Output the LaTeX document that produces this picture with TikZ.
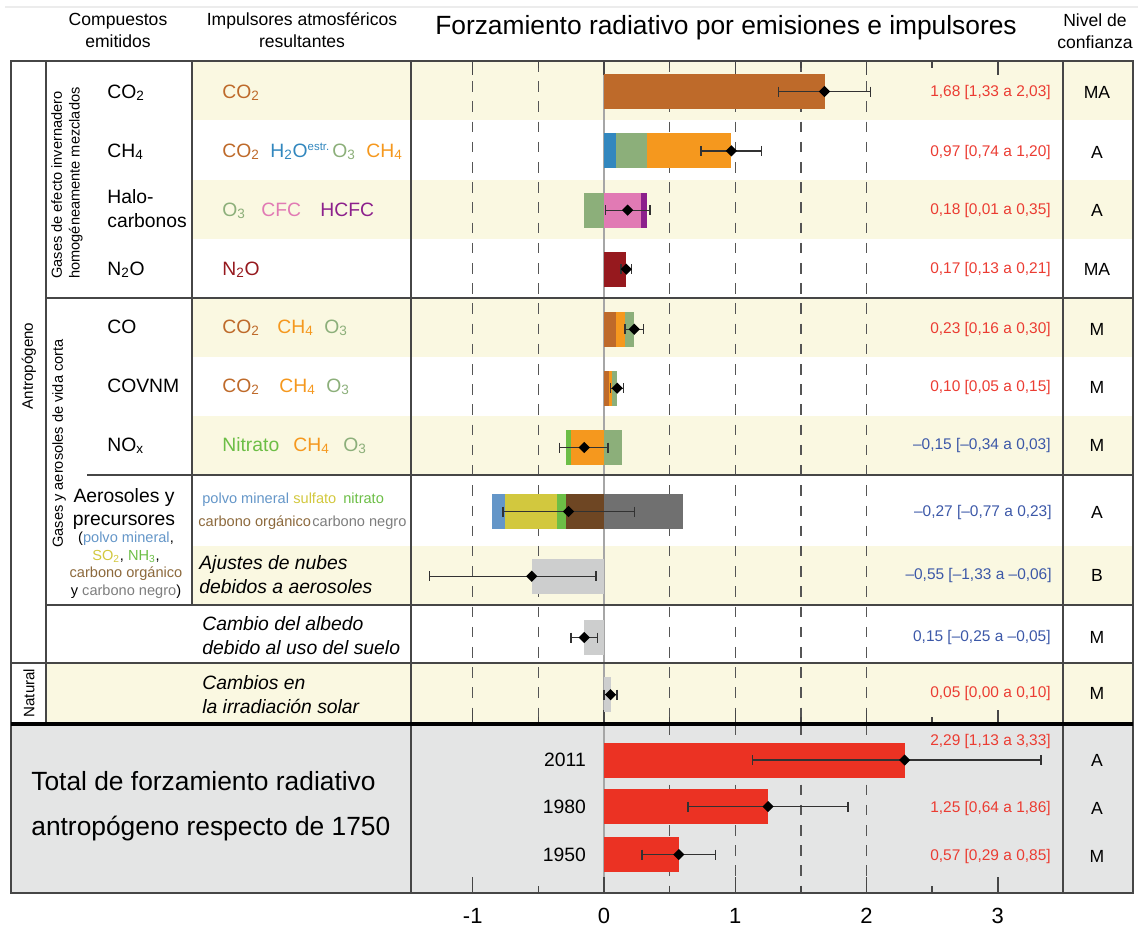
\documentclass[tikz,border=0pt]{standalone}
\usepackage{fontspec}
\setmainfont{Liberation Sans}
\usepackage{tikz}
\usetikzlibrary{shapes.geometric,positioning}
\usepackage{xcolor}
\definecolor{rfcream}{RGB}{250,248,225}
\definecolor{rfpanel}{RGB}{228,229,229}
\definecolor{rfframe}{RGB}{70,70,70}
\definecolor{rfgrid}{RGB}{85,85,85}
\definecolor{rferr}{RGB}{50,50,50}
\definecolor{rfco2}{RGB}{190,106,42}
\definecolor{rfh2o}{RGB}{50,135,190}
\definecolor{rfo3}{RGB}{140,175,122}
\definecolor{rfch4}{RGB}{245,152,30}
\definecolor{rfcfc}{RGB}{225,122,180}
\definecolor{rfhcfc}{RGB}{140,32,140}
\definecolor{rfn2o}{RGB}{150,25,30}
\definecolor{rfnit}{RGB}{108,190,70}
\definecolor{rfdust}{RGB}{100,150,200}
\definecolor{rfsulf}{RGB}{210,200,62}
\definecolor{rforg}{RGB}{110,70,35}
\definecolor{rforgtxt}{RGB}{140,105,60}
\definecolor{rfblack}{RGB}{112,112,112}
\definecolor{rfblacktxt}{RGB}{125,125,125}
\definecolor{rflight}{RGB}{205,206,206}
\definecolor{rftotal}{RGB}{235,50,35}
\definecolor{rfred}{RGB}{235,60,50}
\definecolor{rfblue}{RGB}{60,88,168}
\tikzstyle{frame} = [draw=rfframe, line width=0.85pt]
\tikzstyle{heavy} = [draw=black, line width=1.8pt]
\tikzstyle{gridline} = [draw=rfgrid, line width=0.8pt, dash pattern=on 6pt off 5.5pt]
\tikzstyle{zeroline} = [draw=gray!70, line width=0.6pt]
\tikzstyle{tickmark} = [draw=rfframe, line width=0.8pt]
\tikzstyle{errline} = [draw=rferr, line width=0.8pt]
\tikzstyle{marker} = [diamond, fill=black, inner sep=0pt, minimum size=0.23cm]
\tikzstyle{head} = [align=center, font=\fontsize{10}{12.5}\selectfont]
\tikzstyle{cmp} = [anchor=base west, inner sep=0pt, font=\fontsize{11}{13.6}\selectfont]
\tikzstyle{drv} = [anchor=base west, inner sep=0pt, font=\fontsize{11}{13}\selectfont]
\tikzstyle{drvsmall} = [anchor=base west, inner sep=0pt, font=\fontsize{8.3}{10}\selectfont]
\tikzstyle{note} = [anchor=west, align=left, inner sep=0pt, font=\fontsize{11}{13.6}\selectfont\itshape]
\tikzstyle{val} = [anchor=east, inner sep=0pt, font=\fontsize{8.8}{10}\selectfont]
\tikzstyle{conf} = [font=\fontsize{10}{12}\selectfont]
\tikzstyle{sidelab} = [rotate=90, inner sep=0pt, font=\fontsize{8.3}{10}\selectfont]
\tikzstyle{axlab} = [font=\fontsize{12.5}{14}\selectfont]
\newcommand{\rfbar}[4]{\fill[#1] (#2,#4-17.5) rectangle (#3,#4+17.5);}
\newcommand{\rferrbar}[5]{%
  \draw[errline] (#3,#2-5) -- (#3,#2+5) (#3,#2) -- (#4,#2) (#4,#2-5) -- (#4,#2+5);
  \node (#1) [marker] at (#5,#2) {};}

\begin{document}
\begin{tikzpicture}[x=0.02cm, y=-0.02cm]
\useasboundingbox (0,0) rectangle (1138,931);
\draw[gray!15, line width=0.6pt] (5,7) -- (1138,7);

% row shading
\fill[rfcream] (192,61) rectangle (1133,120);
\fill[rfcream] (192,180) rectangle (1133,239);
\fill[rfcream] (192,298) rectangle (1133,357);
\fill[rfcream] (192,416) rectangle (1133,475);
\fill[rfcream] (192,546) rectangle (1133,605);
\fill[rfcream] (46,663) rectangle (1133,724);
\fill[rfpanel] (11,724) rectangle (1133,893);

% forcing axis: 0 at x=604, 1 unit = 131.3
\begin{scope}[shift={(604,0)}, x=2.626cm]
\foreach \v in {-1,-0.5,0.5,1,1.5,2}
  \draw[gridline] (\v,61) -- (\v,724);
\foreach \v in {0.5,1,1.5,2}
  \draw[gridline] (\v,724) -- (\v,893);
\draw[zeroline] (0,61) -- (0,893);
\foreach \v in {-1,0,1,2,3}
  \draw[tickmark] (\v,61) -- (\v,75) (\v,724) -- (\v,710) (\v,893) -- (\v,877);
\foreach \v in {-0.5,0.5,1.5,2.5}
  \draw[tickmark] (\v,61) -- (\v,68) (\v,724) -- (\v,717) (\v,893) -- (\v,886);

% bars
\rfbar{rfco2}{0}{1.68}{91.5}
\rfbar{rfh2o}{0}{0.09}{150.8}
\rfbar{rfo3}{0.09}{0.33}{150.8}
\rfbar{rfch4}{0.33}{0.97}{150.8}
\rfbar{rfo3}{-0.15}{0}{210.2}
\rfbar{rfcfc}{0}{0.28}{210.2}
\rfbar{rfhcfc}{0.28}{0.33}{210.2}
\rfbar{rfn2o}{0}{0.17}{269.2}
\rfbar{rfco2}{0}{0.09}{329.2}
\rfbar{rfch4}{0.09}{0.16}{329.2}
\rfbar{rfo3}{0.16}{0.23}{329.2}
\rfbar{rfco2}{0}{0.036}{388.2}
\rfbar{rfch4}{0.036}{0.06}{388.2}
\rfbar{rfo3}{0.06}{0.10}{388.2}
\rfbar{rfnit}{-0.29}{-0.25}{447.5}
\rfbar{rfch4}{-0.25}{0}{447.5}
\rfbar{rfo3}{0}{0.14}{447.5}
\rfbar{rfdust}{-0.855}{-0.755}{511.5}
\rfbar{rfsulf}{-0.755}{-0.356}{511.5}
\rfbar{rfnit}{-0.356}{-0.287}{511.5}
\rfbar{rforg}{-0.287}{0}{511.5}
\rfbar{rfblack}{0}{0.60}{511.5}
\rfbar{rflight}{-0.55}{0}{576.2}
\rfbar{rflight}{-0.15}{0}{637.5}
\rfbar{rflight}{0}{0.05}{694.7}
\rfbar{rftotal}{0}{2.29}{760}
\rfbar{rftotal}{0}{1.25}{806.5}
\rfbar{rftotal}{0}{0.57}{854.5}

% uncertainty ranges
\rferrbar{eco2}{91.5}{1.33}{2.03}{1.68}
\rferrbar{ech4}{150.8}{0.74}{1.20}{0.97}
\rferrbar{ehalo}{210.2}{0.01}{0.35}{0.18}
\rferrbar{en2o}{269.2}{0.13}{0.21}{0.17}
\rferrbar{eco}{329.2}{0.16}{0.30}{0.23}
\rferrbar{evoc}{388.2}{0.05}{0.15}{0.10}
\rferrbar{enox}{447.5}{-0.34}{0.03}{-0.15}
\rferrbar{eaer}{511.5}{-0.77}{0.23}{-0.27}
\rferrbar{ecloud}{576.2}{-1.33}{-0.06}{-0.55}
\rferrbar{ealb}{637.5}{-0.25}{-0.05}{-0.15}
\rferrbar{esol}{694.7}{0.00}{0.10}{0.05}
\rferrbar{e2011}{760}{1.13}{3.33}{2.29}
\rferrbar{e1980}{806.5}{0.64}{1.86}{1.25}
\rferrbar{e1950}{854.5}{0.29}{0.85}{0.57}

\foreach \v in {-1,0,1,2,3}
  \node (ax\v) [axlab] at (\v,916) {\v};
\end{scope}

% table lines
\draw[frame] (11,61) rectangle (1133,893);
\draw[frame] (46,61) -- (46,724);
\draw[frame] (192,61) -- (192,605);
\draw[frame] (411,61) -- (411,893);
\draw[frame] (1063,61) -- (1063,893);
\draw[frame] (46,298) -- (1133,298);
\draw[frame] (87,475) -- (1133,475);
\draw[frame] (46,605) -- (1133,605);
\draw[frame] (11,663) -- (1133,663);
\draw[heavy] (11,724) -- (1133,724);

% headers
\node (hcomp) [head] at (118,30) {Compuestos\\emitidos};
\node (hdrv) [head] at (302,30) {Impulsores atmosféricos\\resultantes};
\node (title) [font=\fontsize{15}{18}\selectfont] at (726,28) {Forzamiento radiativo por emisiones e impulsores};
\node (hconf) [head] at (1095,31) {Nivel de\\confianza};

% side labels
\node (anthro) [sidelab, font=\fontsize{8.6}{10}\selectfont] at (29,366) {Antropógeno};
\node (natural) [sidelab, font=\fontsize{8.6}{10}\selectfont] at (29,693) {Natural};
\node (wmghg) [sidelab, anchor=west, align=left] at (67,279) {Gases de efecto invernadero\\homogéneamente mezclados};
\node (slcf) [sidelab, anchor=west] at (59,548) {Gases y aerosoles de vida corta};

% emitted compounds
\node (cco2) [cmp] at (107,98) {CO\textsubscript{2}};
\node (cch4) [cmp] at (107,157) {CH\textsubscript{4}};
\node (chalo) [cmp, anchor=west, align=left] at (107,209) {Halo-\\carbonos};
\node (cn2o) [cmp] at (107,275) {N\textsubscript{2}O};
\node (cco) [cmp] at (107,333) {CO};
\node (cvoc) [cmp] at (107,392) {COVNM};
\node (cnox) [cmp] at (107,451) {NO\textsubscript{x}};
\node (caer) [cmp, anchor=center, align=center, font=\fontsize{11}{13}\selectfont] at (124,509) {Aerosoles y\\precursores};
\node (caerx) [align=center, inner sep=0pt, font=\fontsize{8.3}{10}\selectfont] at (126,565) {(\textcolor{rfdust}{polvo mineral},\\\textcolor{rfsulf}{SO\textsubscript{2}}, \textcolor{rfnit}{NH\textsubscript{3}},\\\textcolor{rforgtxt}{carbono orgánico}\\y \textcolor{rfblacktxt}{carbono negro})};

% atmospheric drivers
\node (dco2a) [drv, text=rfco2] at (222,98) {CO\textsubscript{2}};
\node (dco2b) [drv, text=rfco2] at (222,157) {CO\textsubscript{2}};
\node (dh2o) [drv, text=rfh2o] at (270,157) {H\textsubscript{2}O\textsuperscript{\fontsize{6.5}{7}\selectfont estr.}};
\node (do3b) [drv, text=rfo3] at (332,157) {O\textsubscript{3}};
\node (dch4b) [drv, text=rfch4] at (366,157) {CH\textsubscript{4}};
\node (do3c) [drv, text=rfo3] at (222,216) {O\textsubscript{3}};
\node (dcfc) [drv, text=rfcfc] at (261,216) {CFC};
\node (dhcfc) [drv, text=rfhcfc] at (320,216) {HCFC};
\node (dn2o) [drv, text=rfn2o] at (222,275) {N\textsubscript{2}O};
\node (dco2e) [drv, text=rfco2] at (222,333) {CO\textsubscript{2}};
\node (dch4e) [drv, text=rfch4] at (277,333) {CH\textsubscript{4}};
\node (do3e) [drv, text=rfo3] at (324,333) {O\textsubscript{3}};
\node (dco2f) [drv, text=rfco2] at (222,392) {CO\textsubscript{2}};
\node (dch4f) [drv, text=rfch4] at (279,392) {CH\textsubscript{4}};
\node (do3f) [drv, text=rfo3] at (326,392) {O\textsubscript{3}};
\node (dnit) [drv, text=rfnit] at (222,451) {Nitrato};
\node (dch4g) [drv, text=rfch4] at (293,451) {CH\textsubscript{4}};
\node (do3g) [drv, text=rfo3] at (343,451) {O\textsubscript{3}};
\node (ddust) [drvsmall, text=rfdust] at (202,503) {polvo mineral};
\node (dsulf) [drvsmall, text=rfsulf] at (293,503) {sulfato};
\node (dnitr) [drvsmall, text=rfnit] at (343,503) {nitrato};
\node (dorg) [drvsmall, text=rforgtxt] at (198,526) {carbono orgánico};
\node (dbc) [drvsmall, text=rfblacktxt] at (312,526) {carbono negro};
\node (cloud) [note] at (199,575) {Ajustes de nubes\\debidos a aerosoles};
\node (albedo) [note] at (202,636) {Cambio del albedo\\debido al uso del suelo};
\node (solar) [note] at (202,695) {Cambios en\\la irradiación solar};

% totals
\node (total) [anchor=west, align=left, inner sep=0pt, font=\fontsize{15}{25.5}\selectfont] at (31,806) {Total de forzamiento radiativo\\antropógeno respecto de 1750};
\node (y2011) [anchor=east, font=\fontsize{11}{13}\selectfont] at (592,760) {2011};
\node (y1980) [anchor=east, font=\fontsize{11}{13}\selectfont] at (592,807) {1980};
\node (y1950) [anchor=east, font=\fontsize{11}{13}\selectfont] at (592,855) {1950};

% values
\node (vco2) [val, text=rfred] at (1051,92) {1,68 [1,33 a 2,03]};
\node (vch4) [val, text=rfred] at (1051,152) {0,97 [0,74 a 1,20]};
\node (vhalo) [val, text=rfred] at (1051,210) {0,18 [0,01 a 0,35]};
\node (vn2o) [val, text=rfred] at (1051,269) {0,17 [0,13 a 0,21]};
\node (vco) [val, text=rfred] at (1051,329) {0,23 [0,16 a 0,30]};
\node (vvoc) [val, text=rfred] at (1051,387) {0,10 [0,05 a 0,15]};
\node (vnox) [val, text=rfblue] at (1051,445) {–0,15 [–0,34 a 0,03]};
\node (vaer) [val, text=rfblue] at (1052,512) {–0,27 [–0,77 a 0,23]};
\node (vcloud) [val, text=rfblue] at (1052,575) {–0,55 [–1,33 a –0,06]};
\node (valb) [val, text=rfblue] at (1051,637) {0,15 [–0,25 a –0,05]};
\node (vsol) [val, text=rfred] at (1051,693) {0,05 [0,00 a 0,10]};
\node (v2011) [val, text=rfred] at (1051,741) {2,29 [1,13 a 3,33]};
\node (v1980) [val, text=rfred] at (1051,808) {1,25 [0,64 a 1,86]};
\node (v1950) [val, text=rfred] at (1051,856) {0,57 [0,29 a 0,85]};

% confidence
\node (kco2) [conf] at (1097,92) {MA};
\node (kch4) [conf] at (1097,152) {A};
\node (khalo) [conf] at (1097,210) {A};
\node (kn2o) [conf] at (1097,269) {MA};
\node (kco) [conf] at (1097,329) {M};
\node (kvoc) [conf] at (1097,387) {M};
\node (knox) [conf] at (1097,445) {M};
\node (kaer) [conf] at (1097,512) {A};
\node (kcloud) [conf] at (1097,575) {B};
\node (kalb) [conf] at (1097,637) {M};
\node (ksol) [conf] at (1097,693) {M};
\node (k2011) [conf] at (1097,760) {A};
\node (k1980) [conf] at (1097,808) {A};
\node (k1950) [conf] at (1097,856) {M};
\end{tikzpicture}
\end{document}
